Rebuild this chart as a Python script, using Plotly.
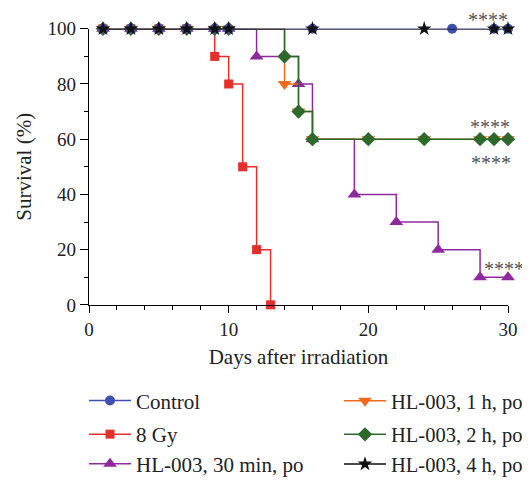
import plotly.graph_objects as go

# ---- data ----
ctrl_days = [1, 3, 5, 7, 9, 10, 16, 26, 29, 30]
ctrl_surv = [100, 100, 100, 100, 100, 100, 100, 100, 100, 100]

gy_days = [1, 3, 5, 7, 9, 10, 11, 12, 13]
gy_surv = [100, 100, 100, 100, 90, 80, 50, 20, 0]

m30_days = [1, 3, 5, 7, 9, 10, 12, 15, 16, 19, 22, 25, 28, 30]
m30_surv = [100, 100, 100, 100, 100, 100, 90, 80, 60, 40, 30, 20, 10, 10]

h1_days = [1, 3, 5, 7, 9, 10, 14, 15, 16, 20, 24, 28, 29, 30]
h1_surv = [100, 100, 100, 100, 100, 100, 80, 70, 60, 60, 60, 60, 60, 60]

h2_days = [1, 3, 5, 7, 9, 10, 14, 15, 16, 20, 24, 28, 29, 30]
h2_surv = [100, 100, 100, 100, 100, 100, 90, 70, 60, 60, 60, 60, 60, 60]

h4_days = [1, 3, 5, 7, 9, 10, 16, 24, 29, 30]
h4_surv = [100, 100, 100, 100, 100, 100, 100, 100, 100, 100]

sig_labels = ["****", "****", "****", "****"]
sig_x = [28.6, 28.7, 28.8, 30]
sig_y = [100, 64.5, 51.5, 13.0]
sig_xshift = [0, 0, 0, -4]

FONT = "Liberation Serif"
OFF = 8  # page body margin of the html page
W, H = 530 - OFF, 485 - OFF  # figure fills the rest of the 530x485 window

series = [
    # name, x, y, color, symbol, size, legend slot
    ("HL-003, 30 min, po", m30_days, m30_surv, "#8E2A9E", "triangle-up", 12, "legend3"),
    ("HL-003, 1 h, po", h1_days, h1_surv, "#F26A1B", "triangle-down", 12, "legend4"),
    ("8 Gy", gy_days, gy_surv, "#E4302A", "square", 9, "legend2"),
    ("HL-003, 2 h, po", h2_days, h2_surv, "#2B6A2B", "diamond", 11, "legend5"),
    ("Control", ctrl_days, ctrl_surv, "#3F4FB0", "circle", 10, "legend"),
    ("HL-003, 4 h, po", h4_days, h4_surv, "#111111", "star", 11, "legend6"),
]

fig = go.Figure()
for name, xs, ys, col, sym, sz, lg in series:
    fig.add_trace(go.Scatter(
        x=xs, y=ys, name=name, mode="lines+markers",
        line=dict(color=col, width=1.5, shape="hv"),
        marker=dict(color=col, symbol=sym, size=sz),
        cliponaxis=False, legend=lg, showlegend=True,
    ))

for i, (t, xx, yy, xs_) in enumerate(zip(sig_labels, sig_x, sig_y, sig_xshift)):
    if i == 0:
        # top label sits right at the upper edge of the figure
        fig.add_annotation(x=xx, y=1, yref="paper", yanchor="top", text=t,
                           showarrow=False, borderpad=0,
                           font=dict(family=FONT, size=20, color="#555555"))
    else:
        fig.add_annotation(x=xx, y=yy, xshift=xs_, text=t, showarrow=False,
                           font=dict(family=FONT, size=20, color="#555555"))

def leg(x, y, fs):
    return dict(x=x, y=y, xanchor="left", yanchor="middle", visible=True,
                font=dict(family=FONT, size=fs, color="#222222"),
                bgcolor="rgba(0,0,0,0)", itemwidth=42)

c1, c2 = (89 - 5 - OFF) / W, (344 - 5 - OFF) / W
r1, r2, r3 = 1 - 397 / H, 1 - 431 / H, 1 - 461 / H

fig.update_layout(
    width=W, height=H, showlegend=True,
    margin=dict(l=0, r=0, t=0, b=0),
    paper_bgcolor="white", plot_bgcolor="white",
    font=dict(family=FONT, size=19, color="#222222"),
    legend=leg(c1, r1, 21), legend2=leg(c1, r2, 21), legend3=leg(c1, r3, 21),
    legend4=leg(c2, r1, 20.5), legend5=leg(c2, r2, 20.5), legend6=leg(c2, r3, 20.5),
    xaxis=dict(domain=[(89 - OFF) / W, (508 - OFF) / W], range=[0, 30],
               tickvals=[0, 10, 20, 30], showline=True, automargin=False,
               linecolor="black", linewidth=1.2, ticks="outside", ticklen=7,
               tickcolor="black", showgrid=False, zeroline=False,
               tickfont=dict(family=FONT, size=19),
               minor=dict(dtick=2, ticks="outside", ticklen=4, tickcolor="black"),
               title=dict(text="Days after irradiation", font=dict(family=FONT, size=21), standoff=10)),
    yaxis=dict(domain=[1 - (308 - OFF) / H, 1 - (29 - OFF) / H], range=[0, 100],
               tickvals=[0, 20, 40, 60, 80, 100], showline=True, automargin=False,
               linecolor="black", linewidth=1.2, ticks="outside", ticklen=8,
               tickcolor="black", showgrid=False, zeroline=False,
               tickfont=dict(family=FONT, size=19),
               minor=dict(dtick=10, ticks="outside", ticklen=4, tickcolor="black"),
               title=dict(text="Survival (%)", font=dict(family=FONT, size=21), standoff=10)),
)

fig.write_html("out.html")
